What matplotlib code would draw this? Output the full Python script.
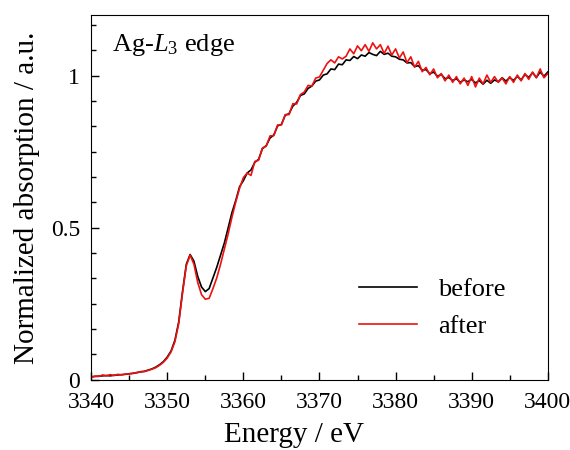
import numpy as np
from matplotlib import pyplot as plt
from matplotlib.ticker import MultipleLocator, FixedLocator

plt.rcParams['font.family'] = ['Liberation Serif', 'DejaVu Serif']
plt.rcParams['mathtext.fontset'] = 'custom'
plt.rcParams['mathtext.rm'] = 'Liberation Serif'
plt.rcParams['mathtext.it'] = 'Liberation Serif:italic'

# energy grid (eV), 0.5 eV steps
energy = np.arange(3340.0, 3400.01, 0.5)

# normalized absorption
before = [
    0.010, 0.011, 0.012, 0.013, 0.014, 0.013, 0.015, 0.016, 0.017, 0.018,
    0.020, 0.021, 0.024, 0.026, 0.028, 0.032, 0.036, 0.042, 0.050, 0.060,
    0.075, 0.095, 0.130, 0.190, 0.290, 0.380, 0.412, 0.390, 0.340, 0.305,
    0.290, 0.300, 0.335, 0.370, 0.410, 0.450, 0.500, 0.550, 0.590, 0.635,
    0.655, 0.680, 0.690, 0.715, 0.725, 0.760, 0.770, 0.795, 0.805, 0.835,
    0.840, 0.870, 0.875, 0.900, 0.912, 0.935, 0.940, 0.958, 0.966, 0.982,
    0.986, 1.002, 1.006, 1.022, 1.020, 1.038, 1.036, 1.052, 1.050, 1.063,
    1.056, 1.068, 1.064, 1.076, 1.070, 1.066, 1.080, 1.070, 1.074, 1.064,
    1.062, 1.054, 1.052, 1.042, 1.043, 1.030, 1.033, 1.018, 1.020, 1.006,
    1.012, 0.998, 1.004, 0.990, 0.994, 0.984, 0.990, 0.978, 0.986, 0.980,
    0.988, 0.976, 0.984, 0.972, 0.985, 0.975, 0.986, 0.980, 0.993, 0.982,
    0.994, 0.984, 0.998, 0.986, 1.004, 0.994, 1.010, 0.994, 1.012, 0.998,
    1.012,
]

after = [
    0.008, 0.012, 0.011, 0.016, 0.013, 0.017, 0.014, 0.018, 0.016, 0.019,
    0.019, 0.022, 0.023, 0.027, 0.027, 0.031, 0.035, 0.040, 0.048, 0.058,
    0.072, 0.092, 0.125, 0.185, 0.285, 0.375, 0.410, 0.380, 0.320, 0.280,
    0.265, 0.268, 0.300, 0.335, 0.380, 0.430, 0.480, 0.535, 0.585, 0.630,
    0.665, 0.680, 0.672, 0.718, 0.722, 0.762, 0.768, 0.802, 0.803, 0.838,
    0.838, 0.872, 0.872, 0.908, 0.907, 0.938, 0.946, 0.968, 0.966, 0.992,
    0.996, 1.018, 1.040, 1.052, 1.042, 1.062, 1.055, 1.064, 1.088, 1.072,
    1.098, 1.082, 1.102, 1.080, 1.108, 1.088, 1.102, 1.073, 1.097, 1.068,
    1.088, 1.058, 1.078, 1.043, 1.062, 1.028, 1.047, 1.013, 1.027, 1.003,
    1.022, 0.993, 1.007, 0.983, 1.002, 0.978, 0.997, 0.973, 0.992, 0.968,
    0.997, 0.963, 0.992, 0.973, 1.002, 0.978, 0.997, 0.978, 0.992, 0.973,
    0.997, 0.978, 1.002, 0.983, 1.007, 0.988, 1.012, 0.993, 1.022, 0.993,
    1.007,
]

labels = ["before", "after"]
colors = ["black", "#ee1111"]

fig = plt.figure(figsize=(5.7, 4.5), dpi=100)
ax = fig.add_axes([0.16, 0.156, 0.801, 0.811])

ax.plot(energy, before, color=colors[0], lw=1.2, label=labels[0])
ax.plot(energy, after, color=colors[1], lw=1.2, label=labels[1])

ax.set_xlim(3340, 3400)
ax.set_ylim(0, 1.2)
ax.xaxis.set_major_locator(MultipleLocator(10))
ax.xaxis.set_minor_locator(MultipleLocator(5))
ax.yaxis.set_major_locator(FixedLocator([0, 0.5, 1]))
ax.yaxis.set_minor_locator(MultipleLocator(1 / 12))
ax.set_yticklabels(["0", "0.5", "1"])

ax.tick_params(which='both', direction='in', top=False, right=False,
               labelsize=17, width=1)
ax.tick_params(which='major', length=6)
ax.tick_params(which='minor', length=3.5)
ax.tick_params(axis='x', pad=9)
ax.tick_params(axis='y', pad=8)

ax.set_xlabel("Energy / eV", fontsize=21, labelpad=6)
ax.xaxis.set_label_coords(0.444, -0.115, transform=ax.transAxes)
ax.xaxis.label.set_va('top')
ax.set_ylabel("Normalized absorption / a.u.", fontsize=21, labelpad=8)

ax.text(0.046, 0.90, r"Ag-$\mathit{L}_\mathit{3}$ edge", transform=ax.transAxes,
        fontsize=19, va='baseline', ha='left')

ax.legend(loc='lower left', bbox_to_anchor=(0.535, 0.05), frameon=False,
          fontsize=19, handlelength=2.2, handletextpad=0.8, labelspacing=0.5)

fig.savefig("out.png", dpi=100)
